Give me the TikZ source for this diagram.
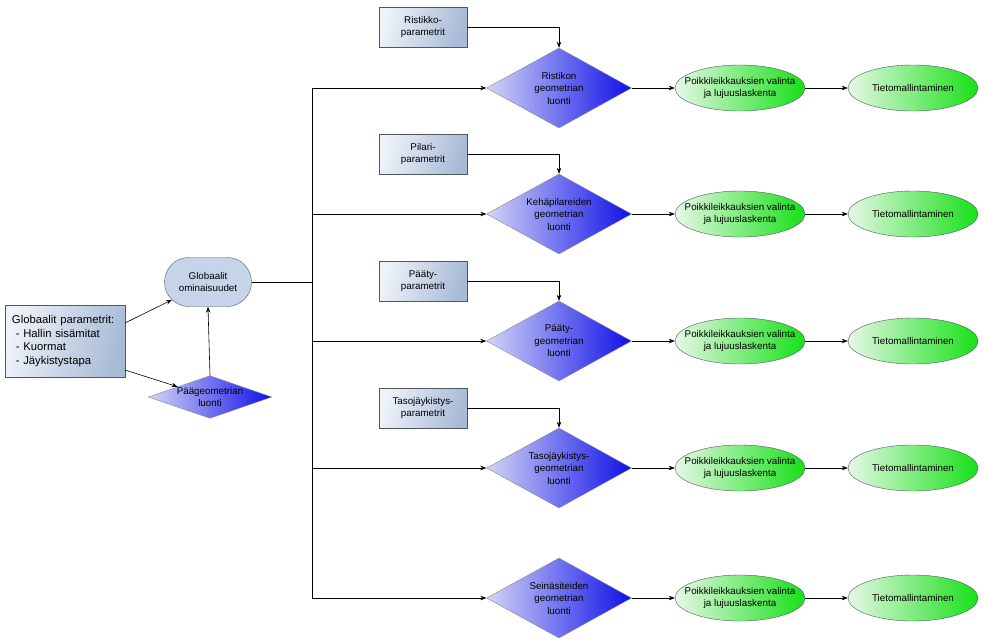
\documentclass[tikz,border=0pt]{standalone}
\usepackage{fontspec}
\setmainfont{Liberation Sans}
\usetikzlibrary{shapes.geometric,shapes.misc,arrows.meta,calc}
\definecolor{rectL}{HTML}{EEF2F9}
\definecolor{rectR}{HTML}{A7BAD6}
\definecolor{diaL}{HTML}{D2D5F5}
\definecolor{diaR}{HTML}{1010E8}
\definecolor{ellL}{HTML}{E6F8E6}
\definecolor{ellR}{HTML}{18E018}
\definecolor{globF}{HTML}{C6D4EA}
\definecolor{edge}{HTML}{505860}
\tikzset{
  txt/.style={font=\fontsize{9.8}{12.5}\selectfont, align=center, text=black},
  parbox/.style={txt, draw=edge, rectangle, minimum width=88pt, minimum height=40pt, inner sep=0pt, left color=rectL, right color=rectR, shading angle=75},
  dia/.style={txt, draw=edge!70, diamond, aspect=1.8, minimum width=145pt, minimum height=80pt, inner sep=0pt, left color=diaL, right color=diaR},
  ell/.style={txt, draw=edge, ellipse, minimum width=130pt, minimum height=46pt, inner xsep=-12pt, inner ysep=0pt, left color=ellL, right color=ellR},
  glob/.style={txt, draw=edge, rounded rectangle, minimum width=87pt, minimum height=49pt, inner sep=0pt, fill=globF},
  arr/.style={-{Stealth[length=6pt,width=4.5pt]}, line width=0.6pt},
  ln/.style={line width=0.6pt}
}
\begin{document}
\begin{tikzpicture}[x=1pt,y=-1pt]
\useasboundingbox (0,0) rectangle (984,641);
% left part
\node[draw=edge, rectangle, minimum width=120pt, minimum height=72pt, inner sep=0pt, left color=rectL, right color=rectR, shading angle=75, align=left, font=\fontsize{11.3}{13.5}\selectfont, text width=106pt] (gp) at (65,341) {Globaalit parametrit:\\\ - Hallin sisämitat\\\ - Kuormat\\\ - Jäykistystapa};
\node[glob] (go) at (208,282) {Globaalit\\ominaisuudet};
\node[dia, minimum width=120pt, minimum height=42pt, aspect=2.9] (pg) at (210,397) {Päägeometrian\\luonti};
\coordinate (gpa) at (125,323);
\coordinate (gpb) at (125,370);
\draw[arr] (gpa) -- (go);
\draw[arr] (gpb) -- (pg);
\draw[arr] (pg.north) -- (go.south);
% trunk
\coordinate (tt) at (312,88);
\coordinate (tb) at (312,598);
\draw[ln] (go.east) -- (go.east -| tt);
\draw[ln] (tt) -- (tb);
% rows
\node[parbox] (p1) at (423,27) {Ristikko-\\parametrit};
\node[parbox] (p2) at (423,154) {Pilari-\\parametrit};
\node[parbox] (p3) at (423,281) {Pääty-\\parametrit};
\node[parbox] (p4) at (423,408) {Tasojäykistys-\\parametrit};
\node[dia] (d1) at (559,88) {Ristikon\\geometrian\\luonti};
\node[dia] (d2) at (559,214) {Kehäpilareiden\\geometrian\\luonti};
\node[dia] (d3) at (559,341) {Pääty-\\geometrian\\luonti};
\node[dia] (d4) at (559,468) {Tasojäykistys-\\geometrian\\luonti};
\node[dia] (d5) at (559,598) {Seinäsiteiden\\geometrian\\luonti};
\foreach \i/\y in {1/88,2/214,3/341,4/468,5/598}{
  \node[ell] (e\i) at (740,\y) {Poikkileikkauksien valinta\\ja lujuuslaskenta};
  \node[ell] (t\i) at (913,\y) {Tietomallintaminen};
  \draw[arr] (tt |- d\i.west) -- (d\i.west);
  \draw[arr] (d\i.east) -- (e\i.west);
  \draw[arr] (e\i.east) -- (t\i.west);
}
\foreach \i in {1,2,3,4}{
  \draw[arr] (p\i.east) -| (d\i.north);
}
\end{tikzpicture}
\end{document}
